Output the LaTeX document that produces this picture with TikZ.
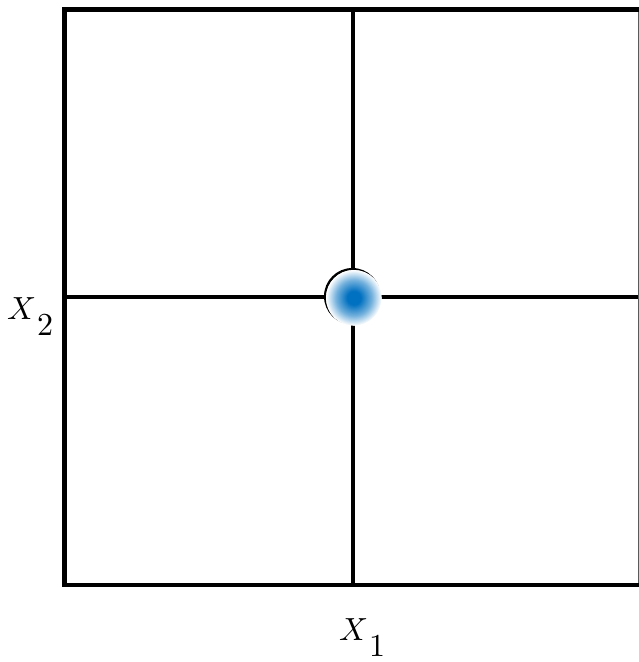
\documentclass[tikz,border=0pt]{standalone}
\usetikzlibrary{calc}
\definecolor{blobblue}{RGB}{0,112,192}
\definecolor{edgegray}{RGB}{90,90,90}
\pgfdeclareradialshading{blobshade}{\pgfpoint{0bp}{0bp}}{color(0bp)=(blobblue); color(6bp)=(blobblue); color(16bp)=(blobblue!55); color(23bp)=(blobblue!12); color(25bp)=(white); color(50bp)=(white)}
\tikzset{
  frameline/.style={line width=4.8pt},
  axisline/.style={line width=3.8pt},
  lab/.style={inner sep=0pt, anchor=north west}
}
\newcommand{\biglab}[1]{\scalebox{3.2}{$X$\kern0.3pt\raisebox{-5.2pt}{\normalsize #1}}}
\begin{document}
\begin{tikzpicture}[x=1pt,y=-1pt]
\useasboundingbox (0,0) rectangle (639,662);
\coordinate (tl) at (64.7,9.5);
\coordinate (tr) at (639,9.5);
\coordinate (bl) at (64.7,585);
\coordinate (br) at (639,585);
\coordinate (vt) at (352.7,9.5);
\coordinate (vb) at (352.7,585);
\coordinate (hl) at (64.7,297);
\coordinate (hr) at (638.3,297);
% right edge (thin grey)
\draw[edgegray, line width=1.5pt] (638.3,9.5) -- (638.3,585);
% frame
\draw[frameline, line cap=rect] (tr) -- (tl) -- (bl) -- (br);
% axes
\draw[axisline] (vt) -- (vb);
\draw[axisline] (hl) -- (hr);
% blob
\fill[black] (352.3,296.3) circle (28.3);
\fill[white] (353.8,297.8) circle (27.8);
\shade[shading=blobshade] (353.8,297.8) circle (27.8);
% labels
\node[lab] (x2) at (7,297) {\biglab{2}};
\node[lab] (x1) at (339,618) {\biglab{1}};
\end{tikzpicture}
\end{document}
